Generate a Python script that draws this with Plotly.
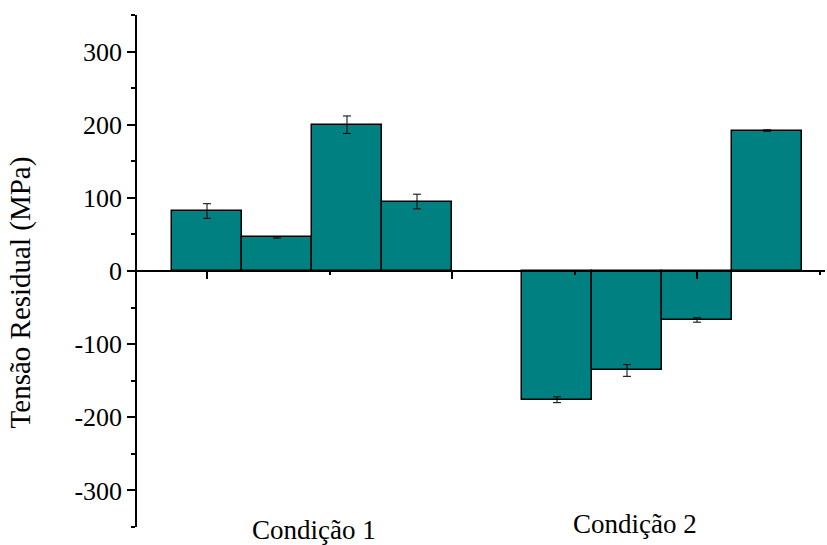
import plotly.graph_objects as go

# Residual stress per condition (MPa) with standard deviation
conditions = ["Condição 1", "Condição 2"]
stress_c1 = [82, 46, 200, 95]
error_c1 = [10, 1, 12, 10]
stress_c2 = [-176, -136, -67, 192]
error_c2 = [4, 8, 3, 1]

y_ticks = [-300, -200, -100, 0, 100, 200, 300]

bar_w = 2 / 7
group_start = [1.0, 1.0 + 10 / 7]

fig = go.Figure()
for start, vals, errs in zip(group_start, [stress_c1, stress_c2], [error_c1, error_c2]):
    xs = [start + i * bar_w for i in range(len(vals))]
    fig.add_trace(go.Bar(
        x=xs, y=vals, width=bar_w,
        marker=dict(color="#008080", line=dict(color="black", width=1.5)),
        error_y=dict(type="data", array=errs, visible=True,
                     color="black", thickness=1, width=4),
        showlegend=False,
    ))

font_family = "Liberation Serif, Times New Roman, serif"

fig.update_layout(
    width=827, height=545,
    margin=dict(l=137, r=2, t=15, b=18),
    paper_bgcolor="white", plot_bgcolor="white",
    font=dict(family=font_family, size=26, color="black"),
    bargap=0,
    xaxis=dict(
        range=[1 - 70 / 245, 1 - 70 / 245 + 688 / 245],
        anchor="free", position=0.5,
        showline=True, linecolor="black", linewidth=1.5,
        showgrid=False, zeroline=False,
        tickmode="array", tickvals=[1, 2, 3], ticks="outside",
        ticklen=7, tickwidth=1.5, tickcolor="black",
        showticklabels=False,
        minor=dict(tickvals=[1.5, 2.5, 3.5], ticks="outside", ticklen=3,
                   tickwidth=1.5, tickcolor="black"),
    ),
    yaxis=dict(
        range=[-350, 350],
        showline=True, linecolor="black", linewidth=1.5,
        showgrid=False, zeroline=False,
        tickmode="array", tickvals=y_ticks,
        ticktext=[str(v) for v in y_ticks],
        ticks="outside", ticklen=8, tickwidth=1.5, tickcolor="black",
        minor=dict(tickvals=[-350, -250, -150, -50, 50, 150, 250, 350],
                   ticks="outside", ticklen=4, tickwidth=1.5, tickcolor="black"),
        tickfont=dict(size=26),
    ),
)

# Category labels under the axis
label_x = [1.437, 2.746]
label_shift = [-3, 3]
for name, lx, sh in zip(conditions, label_x, label_shift):
    fig.add_annotation(x=lx, y=0, xref="x", yref="paper", text=name,
                       showarrow=False, yanchor="middle", yshift=sh,
                       font=dict(size=27, family=font_family))

fig.add_annotation(x=-0.168, y=0.459, xref="paper", yref="paper",
                   text="Tensão Residual (MPa)", textangle=-90,
                   showarrow=False, xanchor="center", yanchor="middle",
                   font=dict(size=29, family=font_family))

fig.write_html("out.html")
